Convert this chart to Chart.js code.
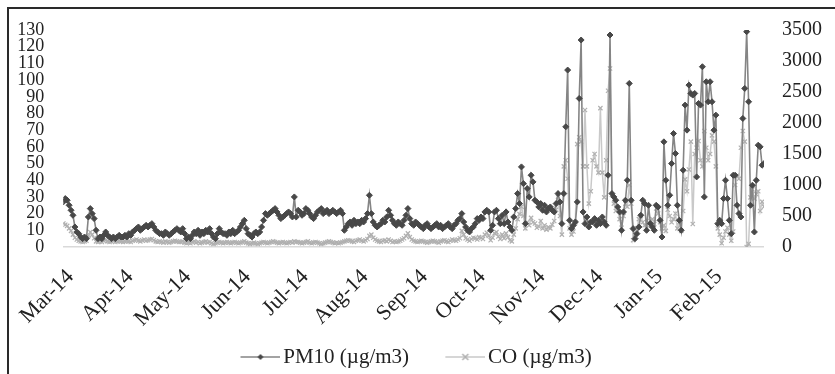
<!DOCTYPE html>
<html>
    <head>
        <meta charset="UTF-8">
        <title>PM10 and CO</title>
        <script src="https://cdn.jsdelivr.net/npm/chart.js"></script>
        <style>
            body { margin: 0; background: #fff; }
            #wrap { position: relative; width: 835px; height: 374px; }
            #frame { position: absolute; left: 7px; top: 7px; right: -4px; bottom: -4px; border-left: 2px solid #2a2a2a; border-top: 2px solid #2a2a2a; pointer-events: none; }
        </style>
    </head>
    <body>
        <div id="wrap">
            <canvas id="chart" width="835" height="374"></canvas>
            <div id="frame"></div>
        </div>
        <script>
        // day 0 = 1 Mar 2014, one value per day
        const monthLabels = ['Mar-14', 'Apr-14', 'May-14', 'Jun-14', 'Jul-14', 'Aug-14', 'Sep-14', 'Oct-14', 'Nov-14', 'Dec-14', 'Jan-15', 'Feb-15'];
        const monthStarts = [0, 31, 61, 92, 122, 153, 184, 214, 245, 275, 306, 337];

        const pm10Mar = [27,29,28,25,22,19,12,9,8,6,5,6,5,18,23,20,17,10,5,6,5,7,9,7,6,5,6,5,6,7,6];
        const pm10Apr = [6,7,6,8,7,9,10,11,12,10,11,12,13,12,13,14,12,10,9,8,8,7,9,8,7,8,9,10,11,10];
        const pm10May = [9,11,8,5,6,5,7,9,8,10,7,9,8,10,9,11,8,6,5,8,11,9,8,8,7,9,8,10,8,9,10];
        const pm10Jun = [12,14,16,11,8,7,6,8,9,8,9,12,16,20,19,20,21,22,23,21,19,17,18,19,20,21,20,18,30,18];
        const pm10Jul = [22,21,19,20,23,22,20,18,17,19,21,22,23,20,21,22,20,21,22,21,20,21,22,20,10,12,14,15,13,16,14];
        const pm10Aug = [15,14,16,15,17,20,31,20,15,13,12,13,14,16,15,18,22,19,16,14,13,15,14,13,16,19,23,17,14,13,15];
        const pm10Sep = [14,13,12,11,13,14,12,11,12,13,14,12,13,11,12,13,14,12,11,13,14,16,17,20,15,12,10,9,11,12];
        const pm10Oct = [14,17,16,18,17,21,22,21,10,13,21,22,17,14,19,14,21,15,12,10,18,23,32,26,48,38,14,35,30,43,39];
        const pm10Nov = [28,27,24,26,22,25,21,23,24,22,21,26,32,27,14,32,72,106,16,11,13,15,27,89,124,21,14,18,12,15];
        const pm10Dec = [15,17,13,16,14,18,15,13,43,127,32,30,28,24,21,10,21,28,40,98,28,11,5,8,12,19,28,26,10,25,14];
        const pm10Jan = [12,10,25,24,16,6,63,40,25,31,50,68,56,25,16,10,46,85,70,97,92,91,92,42,86,85,108,30,99,87,99];
        const pm10Feb = [87,70,79,14,16,14,29,40,29,16,8,43,43,25,20,18,77,95,129,87,25,37,9,40,61,60,49,50];

        const coMar = [380,360,340,300,260,200,150,120,100,90,80,90,100,180,240,200,140,90,80,90,80,100,110,90,80,90,100,80,90,100,90];
        const coApr = [80,90,100,90,80,100,110,120,100,90,110,120,100,110,120,130,110,90,80,90,80,70,90,80,70,80,90,100,90,80];
        const coMay = [80,90,70,60,70,60,80,90,70,80,60,70,80,90,70,80,60,50,60,70,80,70,60,70,80,70,60,70,80,70,60];
        const coJun = [70,80,90,70,60,50,60,70,60,50,60,70,80,70,60,70,80,90,80,70,60,70,80,70,60,70,80,70,90,80];
        const coJul = [80,70,60,70,80,90,70,60,70,80,70,60,50,60,70,80,90,80,70,60,70,60,70,80,90,100,110,100,90,80,100];
        const coAug = [110,120,100,90,110,130,180,200,150,120,100,90,80,100,110,90,120,100,80,90,80,90,100,120,140,180,220,160,120,100,90];
        const coSep = [80,90,100,90,80,70,80,90,100,90,80,70,90,100,110,90,80,100,120,110,100,120,140,260,200,140,120,100,130,150];
        const coOct = [140,120,160,150,130,200,230,180,110,150,220,240,170,130,200,140,220,160,110,90,200,300,450,530,650,500,300,400,350,470,400];
        const coNov = [380,310,330,420,300,350,280,320,300,360,420,600,810,500,200,1300,1400,1100,300,200,250,400,1660,1770,1700,1300,2210,1300,700,900];
        const coDec = [1400,1500,1300,1200,2240,1200,800,1400,2520,2880,840,700,580,600,450,310,500,700,650,1000,700,110,200,300,450,500,400,350,300,400,420];
        const coJan = [450,370,620,540,400,300,350,260,600,500,400,450,540,300,400,260,580,1090,900,1250,1700,370,1500,1600,1710,1400,1300,1870,1600,1400,1500];
        const coFeb = [1800,1700,1300,300,200,60,150,250,310,200,100,250,1000,1150,1100,1600,1870,1700,0,50,800,930,780,850,900,580,730,650];

        const pm10 = [].concat(pm10Mar, pm10Apr, pm10May, pm10Jun, pm10Jul, pm10Aug, pm10Sep, pm10Oct, pm10Nov, pm10Dec, pm10Jan, pm10Feb);
        const co = [].concat(coMar, coApr, coMay, coJun, coJul, coAug, coSep, coOct, coNov, coDec, coJan, coFeb);

        const font = 'Liberation Serif, Times New Roman, serif';
        const pmLine = '#858585', pmDot = '#484848';
        const coLine = '#c9c9c9', coDot = '#b0b0b0';

        // legend sample: 64px canvas centred on the legend box, line sits in its right part
        function legendIcon(kind) {
            const c = document.createElement('canvas');
            c.width = 64; c.height = 12;
            const g = c.getContext('2d');
            g.lineWidth = 1.5;
            g.strokeStyle = kind === 'pm' ? pmLine : coLine;
            g.beginPath(); g.moveTo(24, 6); g.lineTo(64, 6); g.stroke();
            if (kind === 'pm') {
                g.fillStyle = pmDot;
                g.beginPath(); g.moveTo(44, 3); g.lineTo(47, 6); g.lineTo(44, 9); g.lineTo(41, 6); g.closePath(); g.fill();
            } else {
                g.strokeStyle = coDot;
                g.beginPath(); g.moveTo(41, 3); g.lineTo(47, 9); g.moveTo(47, 3); g.lineTo(41, 9); g.stroke();
            }
            return c;
        }
        const icons = [legendIcon('pm'), legendIcon('co')];

        // nudge the centred legend row a little to the left
        const legendShift = {
            id: 'legendShift',
            afterLayout(chart) {
                if (chart.legend) { chart.legend.left -= 9.5; chart.legend.right -= 9.5; }
            }
        };

        const ctx = document.getElementById('chart').getContext('2d');
        new Chart(ctx, {
            type: 'line',
            data: {
                datasets: [{
                    label: 'PM10 (µg/m3)',
                    data: pm10.map((v, i) => ({x: i, y: v})),
                    yAxisID: 'y',
                    borderColor: pmLine,
                    borderWidth: 1.6,
                    pointStyle: 'rectRot',
                    pointRadius: 3,
                    pointBackgroundColor: pmDot,
                    pointBorderColor: pmDot,
                    pointBorderWidth: 1,
                    tension: 0
                }, {
                    label: 'CO (µg/m3)',
                    data: co.map((v, i) => ({x: i, y: v})),
                    yAxisID: 'y1',
                    borderColor: coLine,
                    borderWidth: 1.5,
                    pointStyle: 'crossRot',
                    pointRadius: 3,
                    pointBorderColor: coDot,
                    pointBorderWidth: 1.2,
                    tension: 0
                }]
            },
            plugins: [legendShift],
            options: {
                responsive: false,
                animation: false,
                layout: { padding: { top: 22, left: 0, right: 0, bottom: 0 } },
                plugins: {
                    tooltip: { enabled: false },
                    legend: {
                        position: 'bottom',
                        maxHeight: 47.5,
                        labels: {
                            usePointStyle: true,
                            pointStyleWidth: 48.5,
                            padding: 20,
                            color: '#222',
                            font: { family: font, size: 21 },
                            generateLabels: function(chart) {
                                const items = Chart.defaults.plugins.legend.labels.generateLabels(chart);
                                items.forEach((it, i) => { it.pointStyle = icons[i]; });
                                return items;
                            }
                        }
                    }
                },
                scales: {
                    x: {
                        type: 'linear',
                        min: 0,
                        max: 364,
                        grid: { display: false, drawTicks: false },
                        border: { display: true, color: '#d9d9d9', width: 1.5 },
                        afterBuildTicks: function(scale) {
                            scale.ticks = monthStarts.map(v => ({value: v}));
                        },
                        afterFit: function(scale) { scale.height = 79.5; },
                        ticks: {
                            autoSkip: false,
                            minRotation: 45,
                            maxRotation: 45,
                            padding: 17,
                            labelOffset: 7,
                            color: '#222',
                            font: { family: font, size: 22 },
                            callback: function(value, index) { return monthLabels[index]; }
                        }
                    },
                    y: {
                        position: 'left',
                        min: 0,
                        max: 130,
                        grid: { display: false, drawTicks: false },
                        border: { display: false },
                        afterFit: function(scale) { scale.width = 62; },
                        ticks: {
                            stepSize: 10,
                            autoSkip: false,
                            padding: 19,
                            color: '#222',
                            font: { family: font, size: 18, lineHeight: 1 }
                        }
                    },
                    y1: {
                        position: 'right',
                        min: 0,
                        max: 3500,
                        grid: { display: false, drawTicks: false },
                        border: { display: false },
                        afterFit: function(scale) { scale.width = 71; },
                        ticks: {
                            stepSize: 500,
                            autoSkip: false,
                            padding: 18,
                            color: '#222',
                            font: { family: font, size: 20 },
                            callback: function(value) { return String(value); }
                        }
                    }
                }
            }
        });
        </script>
    </body>
</html>
